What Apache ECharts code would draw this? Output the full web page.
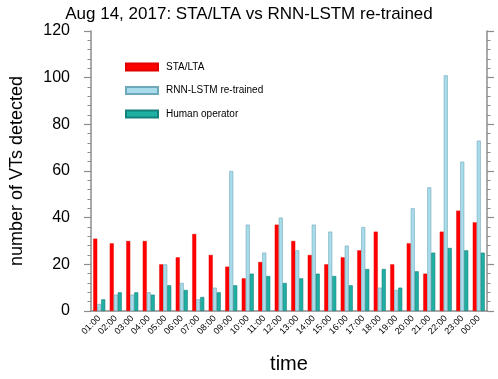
<!DOCTYPE html>
<html>
<head>
<meta charset="utf-8">
<script src="https://cdn.jsdelivr.net/npm/echarts@6/dist/echarts.min.js"></script>
<style>
  html, body { margin: 0; padding: 0; background: #fff; }
  #chart { width: 498px; height: 379px; }
</style>
</head>
<body>
<div id="chart"></div>
<script>
// hourly categories
const hours = ['01:00', '02:00', '03:00', '04:00', '05:00', '06:00', '07:00', '08:00',
  '09:00', '10:00', '11:00', '12:00', '13:00', '14:00', '15:00', '16:00',
  '17:00', '18:00', '19:00', '20:00', '21:00', '22:00', '23:00', '00:00'];

// detections per hour
const staLta = [31, 29, 30, 30, 20, 23, 33, 24, 19, 14, 21, 37, 30, 24, 20, 23, 26, 34, 20, 29, 16, 34, 43, 38];
const rnnLstm = [3, 7, 7, 8, 20, 12, 5, 10, 60, 37, 25, 40, 26, 37, 34, 28, 36, 10, 9, 44, 53, 101, 64, 73];
const human = [5, 8, 8, 7, 11, 9, 6, 8, 11, 16, 15, 12, 14, 16, 15, 11, 18, 18, 10, 17, 25, 27, 26, 25];

const yTicks = [0, 20, 40, 60, 80, 100, 120];

const font = 'Liberation Sans, Arial, Helvetica, sans-serif';
const axisGrey = '#8c8c8c';

const chart = echarts.init(document.getElementById('chart'));

function yAxisDef(pos, withLabels) {
  return {
    type: 'value',
    position: pos,
    min: yTicks[0],
    max: yTicks[yTicks.length - 1],
    interval: yTicks[1] - yTicks[0],
    name: withLabels ? 'number of VTs detected' : '',
    nameLocation: 'middle',
    nameGap: 65,
    nameTextStyle: { fontFamily: font, fontSize: 18, color: '#000' },
    axisLine: { show: true, lineStyle: { color: axisGrey, width: 1.5 } },
    axisTick: { show: true, inside: false, length: 7, lineStyle: { color: axisGrey, width: 1.2 } },
    minorTick: { show: true, splitNumber: 5, length: 3.5, lineStyle: { color: axisGrey, width: 1 } },
    axisLabel: {
      show: withLabels,
      fontFamily: font,
      fontSize: 16,
      color: '#000',
      margin: 21
    },
    splitLine: { show: false }
  };
}

const option = {
  backgroundColor: '#fff',
  animation: false,
  title: {
    text: 'Aug 14, 2017: STA/LTA vs RNN-LSTM re-trained',
    left: 'center',
    top: 1,
    textStyle: { fontFamily: font, fontSize: 17, fontWeight: 'normal', color: '#000' }
  },
  grid: { left: 80, right: 11, top: 31, bottom: 57 },
  legend: {
    orient: 'vertical',
    left: 120,
    top: 57,
    itemWidth: 32,
    itemHeight: 7,
    itemGap: 13.5,
    icon: 'rect',
    textStyle: { fontFamily: font, fontSize: 10, color: '#000', padding: [0, 0, 0, 3] },
    data: ['STA/LTA', 'RNN-LSTM re-trained', 'Human operator']
  },
  xAxis: {
    type: 'category',
    data: hours,
    name: 'time',
    nameLocation: 'middle',
    nameGap: 43,
    nameTextStyle: { fontFamily: font, fontSize: 20, color: '#000' },
    axisLine: { lineStyle: { color: axisGrey, width: 1.5 } },
    axisTick: { alignWithLabel: true, length: 5, lineStyle: { color: axisGrey, width: 1.2 } },
    axisLabel: {
      interval: 0,
      rotate: 45,
      fontFamily: font,
      fontSize: 9,
      color: '#000',
      margin: 6
    }
  },
  yAxis: [yAxisDef('left', true), yAxisDef('right', false)],
  series: [
    {
      name: 'STA/LTA',
      type: 'bar',
      data: staLta,
      barWidth: 4,
      barGap: '0%',
      itemStyle: { color: '#ff0000', borderColor: '#e00000', borderWidth: 0.4 }
    },
    {
      name: 'RNN-LSTM re-trained',
      type: 'bar',
      data: rnnLstm,
      barWidth: 4,
      barGap: '0%',
      itemStyle: { color: '#a8dcea', borderColor: '#6fa8b8', borderWidth: 0.6 }
    },
    {
      name: 'Human operator',
      type: 'bar',
      data: human,
      barWidth: 4,
      barGap: '0%',
      itemStyle: { color: '#1fb0a4', borderColor: '#14807a', borderWidth: 0.6 }
    }
  ]
};

chart.setOption(option);
</script>
</body>
</html>
